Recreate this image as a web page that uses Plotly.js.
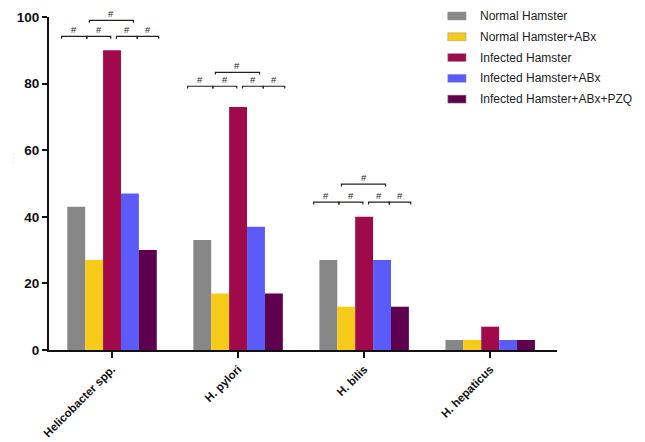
<!DOCTYPE html>
<html>
<head>
<meta charset="utf-8">
<script src="https://cdn.plot.ly/plotly-3.0.1.min.js"></script>
<style>html,body{margin:0;padding:0;background:#fff;}#chart{width:645px;height:442px;}</style>
</head>
<body>
<div id="chart"></div>
<script>
var categories = ["Helicobacter spp.", "H. pylori", "H. bilis", "H. hepaticus"];
var seriesNames = ["Normal Hamster", "Normal Hamster+ABx", "Infected Hamster", "Infected Hamster+ABx", "Infected Hamster+ABx+PZQ"];
var normalHamster = [43, 33, 27, 3];
var normalHamsterABx = [27, 17, 13, 3];
var infectedHamster = [90, 73, 40, 7];
var infectedHamsterABx = [47, 37, 27, 3];
var infectedHamsterABxPZQ = [30, 17, 13, 3];
var colors = ["#878787", "#F5CA18", "#A00A4A", "#5B5BFA", "#5E004E"];
var yTicks = [0, 20, 40, 60, 80, 100];
// significance brackets (groups 0..2)
var bracketGroups = [0, 1, 2];
var lowerLevel = [94.2, 79.2, 44.4];
var upperLevel = [99, 83.4, 49.8];
var sigLabel = "#";

var allSeries = [normalHamster, normalHamsterABx, infectedHamster, infectedHamsterABx, infectedHamsterABxPZQ];
var traces = allSeries.map(function (vals, i) {
  return {
    type: "bar", x: categories, y: vals, name: seriesNames[i],
    marker: {color: colors[i], line: {width: 0}}, showlegend: false,
    hoverinfo: "skip"
  };
});

var shapes = [], annotations = [];
var lo = [-0.40, -0.20, -0.01, 0.035, 0.20, 0.37];
var up = [-0.18, 0.17];
var tick = 0.7;
function bracket(x0, x1, y) {
  shapes.push({type: "path", xref: "x", yref: "y",
    path: "M" + x0 + "," + (y - tick) + " L" + x0 + "," + y + " L" + x1 + "," + y + " L" + x1 + "," + (y - tick),
    line: {color: "#222", width: 1.2}});
  annotations.push({xref: "x", yref: "y", x: (x0 + x1) / 2, y: y, text: sigLabel, showarrow: false,
    yanchor: "bottom", yshift: -1, font: {family: "Liberation Sans, Arial", size: 9.5, color: "#222"}});
}
bracketGroups.forEach(function (g, k) {
  var yl = lowerLevel[k], yu = upperLevel[k];
  bracket(g + lo[0], g + lo[1], yl);
  bracket(g + lo[1], g + lo[2], yl);
  bracket(g + lo[3], g + lo[4], yl);
  bracket(g + lo[4], g + lo[5], yl);
  bracket(g + up[0], g + up[1], yu);
});

// custom legend
seriesNames.forEach(function (n, i) {
  var ypx = 15.7 + i * 20.8;
  var yp = (350 - ypx) / 333.3;
  shapes.push({type: "rect", xref: "paper", yref: "paper", x0: 0.785, x1: 0.821,
    y0: yp - 0.012, y1: yp + 0.012, fillcolor: colors[i], line: {width: 0.5, color: "#999"}});
  annotations.push({xref: "paper", yref: "paper", x: 0.8445, y: yp, xanchor: "left", yanchor: "middle",
    text: n, showarrow: false, font: {family: "Liberation Sans, Arial", size: 12, color: "#222"}});
});
// faint y-axis title remnant
annotations.push({xref: "paper", yref: "paper", x: -0.081, y: 0.576, text: "· · ·", textangle: -90,
  showarrow: false, font: {family: "Liberation Sans, Arial", size: 6, color: "#888"}});

var layout = {
  width: 645, height: 442,
  margin: {l: 49, r: 88, t: 17, b: 92},
  paper_bgcolor: "#fff", plot_bgcolor: "#fff",
  barmode: "group", bargap: 0.29, bargroupgap: 0,
  xaxis: {
    type: "category", range: [-0.5, 3.53], showgrid: false, zeroline: false,
    showline: true, linecolor: "#111", linewidth: 2,
    ticks: "outside", ticklen: 6, tickwidth: 2, tickcolor: "#111",
    tickangle: -45, tickfont: {family: "Liberation Sans, Arial", size: 11.5, color: "#111", weight: "bold"}
  },
  yaxis: {
    range: [0, 100], tickvals: yTicks, showgrid: false, zeroline: false,
    showline: true, linecolor: "#111", linewidth: 2,
    ticks: "outside", ticklen: 5, tickwidth: 2, tickcolor: "#111",
    tickfont: {family: "Liberation Sans, Arial", size: 13.5, color: "#111", weight: "bold"}
  },
  shapes: shapes, annotations: annotations
};
Plotly.newPlot("chart", traces, layout, {displayModeBar: false, staticPlot: true});
</script>
</body>
</html>
